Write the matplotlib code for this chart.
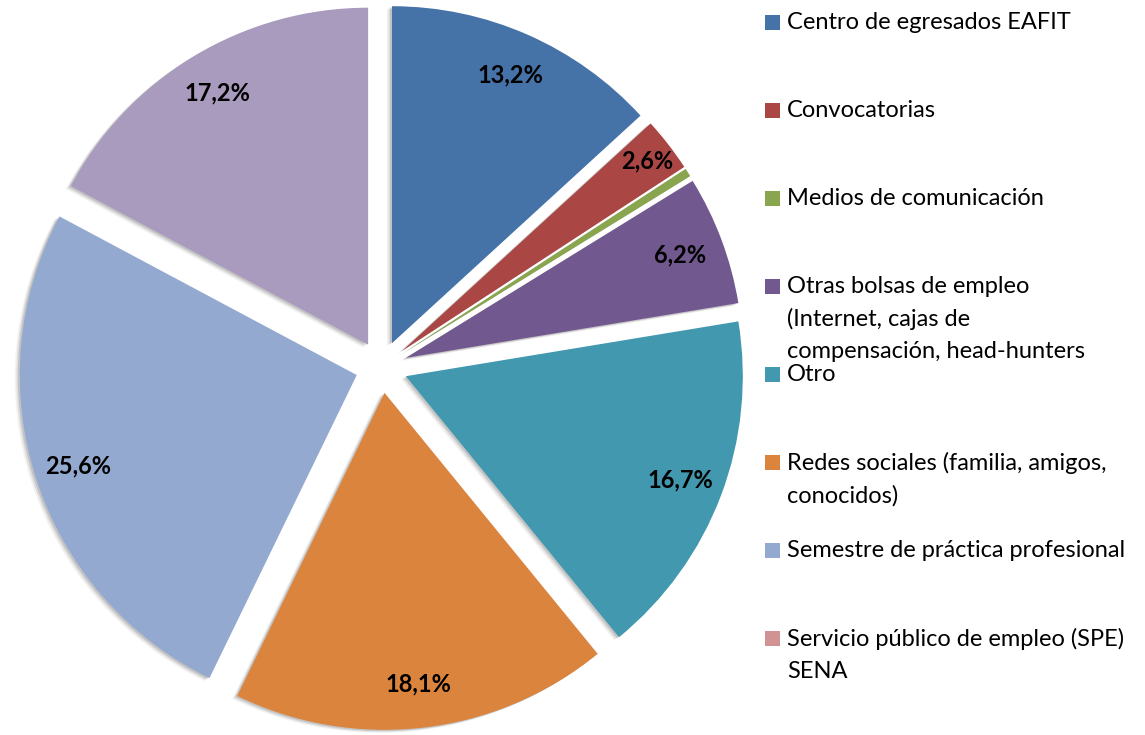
import matplotlib
matplotlib.use("Agg")
import numpy as np
import matplotlib.pyplot as plt
from matplotlib.patches import Rectangle

categories = [
    "Centro de egresados EAFIT",
    "Convocatorias",
    "Medios de comunicación",
    "Otras bolsas de empleo\n(Internet, cajas de\ncompensación, head-hunters",
    "Otro",
    "Redes sociales (familia, amigos,\nconocidos)",
    "Semestre de práctica profesional",
    "Servicio público de empleo (SPE)\nSENA",
    "",
]
values = [13.2, 2.6, 0.4, 6.2, 16.7, 18.1, 25.6, 0.0, 17.2]
colors = ["#4572A7", "#AA4643", "#89A54E", "#71588F", "#4198AF",
          "#DB843D", "#93A9CF", "#D19392", "#A99BBD"]
n_legend = 8

W, H = 1145, 735
fig = plt.figure(figsize=(W / 100, H / 100), dpi=100)
ax = fig.add_axes([0, 0, 1, 1])

cx, cy, R = 381.5, H - 367, 337
explode = [26] * len(values)

# soft shadow (offset to the lower left)
for off, a in [(5, 0.05), (3.5, 0.08), (2, 0.12)]:
    ax.pie(values, radius=R, center=(cx - off, cy - off * 0.6), startangle=90,
           counterclock=False, explode=explode,
           colors=["#000000"] * len(values),
           wedgeprops=dict(alpha=a, linewidth=0), frame=True)

def fmt(p):
    return (f"{p:.1f}%".replace(".", ",")) if p > 1 else ""

wedges, texts, autotexts = ax.pie(
    values, radius=R, center=(cx, cy), startangle=90, counterclock=False,
    explode=explode, colors=colors, autopct=fmt, pctdistance=0.87,
    wedgeprops=dict(linewidth=0), frame=True,
    textprops=dict(fontsize=17, fontweight="bold", family="Lato", color="black"))

# small slices: label a bit further out
for w, t, v in zip(wedges, autotexts, values):
    if 1 < v < 5:
        th = np.deg2rad((w.theta1 + w.theta2) / 2)
        x0, y0c = w.center
        t.set_position((x0 + 0.92 * w.r * np.cos(th), y0c + 0.92 * w.r * np.sin(th)))

ax.set_xlim(0, W)
ax.set_ylim(0, H)
ax.set_aspect("equal")
ax.axis("off")

# legend
y0 = 22
step = 88.0
for i in range(n_legend):
    yc = H - (y0 + step * i)
    ax.add_patch(Rectangle((765, yc - 7.5), 15, 15, facecolor=colors[i], edgecolor="none"))
    ax.text(787, yc + 10, categories[i], fontsize=17, family="Lato",
            va="top", ha="left", linespacing=1.62, color="black")

fig.savefig("out.png", dpi=100)
